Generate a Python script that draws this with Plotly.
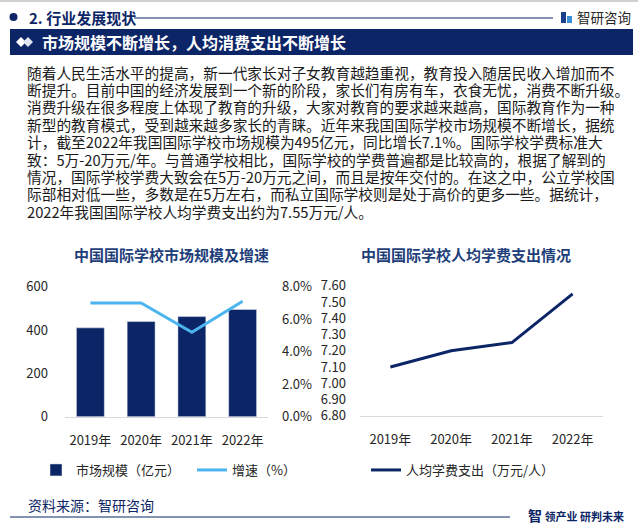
import plotly.graph_objects as go

years = ["2019年", "2020年", "2021年", "2022年"]
market_size = [410, 439, 462, 495]          # 亿元
growth_rate = [0.070, 0.070, 0.052, 0.071]  # 增速
fee_per_student = [7.10, 7.20, 7.25, 7.55]  # 万元/人

left_yticks = [0, 200, 400, 600]
right_pct_ticks = [0.0, 0.02, 0.04, 0.06, 0.08]
fee_ticks = [6.8, 6.9, 7.0, 7.1, 7.2, 7.3, 7.4, 7.5, 7.6]

body_lines = [
    "随着人民生活水平的提高，新一代家长对子女教育越趋重视，教育投入随居民收入增加而不",
    "断提升。目前中国的经济发展到一个新的阶段，家长们有房有车，衣食无忧，消费不断升级。",
    "消费升级在很多程度上体现了教育的升级，大家对教育的要求越来越高，国际教育作为一种",
    "新型的教育模式，受到越来越多家长的青睐。近年来我国国际学校市场规模不断增长，据统",
    "计，截至2022年我国国际学校市场规模为495亿元，同比增长7.1%。国际学校学费标准大",
    "致：5万-20万元/年。与普通学校相比，国际学校的学费普遍都是比较高的，根据了解到的",
    "情况，国际学校学费大致会在5万-20万元之间，而且是按年交付的。在这之中，公立学校国",
    "际部相对低一些，多数是在5万左右，而私立国际学校则是处于高价的更多一些。据统计，",
    "2022年我国国际学校人均学费支出约为7.55万元/人。",
]

W, H = 638, 526
NAVY = "#0c2566"
LIGHT = "#4cb4ee"
FONT = "Noto Sans CJK SC"


def px(x):
    return x / W


def py(y):
    return 1 - y / H


fig = go.Figure()

fig.add_trace(go.Bar(
    x=years, y=market_size, name="市场规模（亿元）",
    marker=dict(color=NAVY), xaxis="x", yaxis="y",
    legend="legend", hoverinfo="skip"))
fig.add_trace(go.Scatter(
    x=years, y=growth_rate, name="增速（%）", mode="lines",
    line=dict(color=LIGHT, width=3), xaxis="x", yaxis="y2",
    legend="legend3", hoverinfo="skip"))
fig.add_trace(go.Scatter(
    x=years, y=fee_per_student, name="人均学费支出（万元/人）", mode="lines",
    line=dict(color=NAVY, width=3), xaxis="x2", yaxis="y3",
    legend="legend2", hoverinfo="skip"))

tickfont = dict(family=FONT, size=13, color="#262626")
legfont = dict(family=FONT, size=13, color="#262626")

fig.update_layout(
    width=W, height=H,
    margin=dict(l=0, r=0, t=0, b=0, autoexpand=False),
    paper_bgcolor="white", plot_bgcolor="rgba(0,0,0,0)",
    font=dict(family=FONT, color="#262626"),
    bargap=0.45,
    xaxis=dict(domain=[px(65), px(268)], anchor="y", showgrid=False,
               showline=True, linecolor="#d9d9d9", linewidth=1,
               ticks="", tickfont=tickfont, ticklabelstandoff=12,
               tickangle=0, automargin=False, range=[-0.5, 3.5]),
    yaxis=dict(domain=[py(416.7), py(286.7)], range=[0, 600],
               tickvals=left_yticks, showgrid=False, zeroline=False,
               showline=False, tickfont=tickfont, ticklabelstandoff=16,
               automargin=False),
    yaxis2=dict(domain=[py(416.7), py(286.7)], range=[0, 0.08],
                overlaying="y", side="right", anchor="x",
                tickvals=right_pct_ticks, tickformat=".1%",
                showgrid=False, zeroline=False, showline=False,
                tickfont=tickfont, ticklabelstandoff=13, automargin=False),
    xaxis2=dict(domain=[px(360), px(603)], anchor="y3", showgrid=False,
                showline=True, linecolor="#d9d9d9", linewidth=1,
                ticks="", tickfont=tickfont, ticklabelstandoff=12,
                tickangle=0, automargin=False, range=[-0.5, 3.5]),
    yaxis3=dict(domain=[py(415.7), py(285.7)], range=[6.8, 7.6],
                anchor="x2", tickvals=fee_ticks, tickformat=".2f",
                showgrid=False, zeroline=False, showline=False,
                tickfont=tickfont, ticklabelstandoff=13, automargin=False),
    showlegend=True,
    legend=dict(x=px(36), y=py(470), xanchor="left", yanchor="middle",
                orientation="h", font=legfont,
                bgcolor="rgba(0,0,0,0)", itemwidth=30),
    legend3=dict(x=px(192), y=py(470), xanchor="left", yanchor="middle",
                 orientation="h", font=legfont,
                 bgcolor="rgba(0,0,0,0)", itemwidth=30),
    legend2=dict(x=px(366), y=py(470), xanchor="left", yanchor="middle",
                 orientation="h", font=legfont,
                 bgcolor="rgba(0,0,0,0)", itemwidth=30),
)

shapes = []
annotations = []

# top thin gray line
shapes.append(dict(type="rect", xref="paper", yref="paper", x0=0, x1=1,
                   y0=py(2), y1=1, fillcolor="#d0d0d0", line=dict(width=0), layer="below"))
# header bullet and line
shapes.append(dict(type="circle", xref="paper", yref="paper",
                   x0=px(9.5), x1=px(17.5), y0=py(21), y1=py(13),
                   fillcolor=NAVY, line=dict(width=0)))
shapes.append(dict(type="line", xref="paper", yref="paper",
                   x0=px(134), x1=px(553), y0=py(18), y1=py(18),
                   line=dict(color=NAVY, width=1)))
annotations.append(dict(x=px(27), y=py(17), xref="paper", yref="paper",
                        xanchor="left", yanchor="middle", showarrow=False,
                        text="<b>2. 行业发展现状</b>",
                        font=dict(family=FONT, size=15, color=NAVY)))
# logo icon
shapes.append(dict(type="rect", xref="paper", yref="paper",
                   x0=px(561), x1=px(566), y0=py(23), y1=py(12),
                   fillcolor="#1c3f8c", line=dict(width=0)))
shapes.append(dict(type="rect", xref="paper", yref="paper",
                   x0=px(567), x1=px(572), y0=py(23), y1=py(16),
                   fillcolor="#3a8fd8", line=dict(width=0)))
annotations.append(dict(x=px(575), y=py(17), xref="paper", yref="paper",
                        xanchor="left", yanchor="middle", showarrow=False,
                        text="智研咨询",
                        font=dict(family=FONT, size=13.5, color="#262626")))

# title bar
shapes.append(dict(type="rect", xref="paper", yref="paper",
                   x0=px(10), x1=px(633), y0=py(55), y1=py(29),
                   fillcolor=NAVY, line=dict(width=0), layer="below"))
for cx in (21, 28):
    shapes.append(dict(type="path", xref="paper", yref="paper",
                       path=f"M {px(cx-5)} {py(42)} L {px(cx)} {py(37)} L {px(cx+5)} {py(42)} L {px(cx)} {py(47)} Z",
                       fillcolor="white" if cx == 21 else "#dfe6f2", line=dict(width=0)))
annotations.append(dict(x=px(40), y=py(42), xref="paper", yref="paper",
                        xanchor="left", yanchor="middle", showarrow=False,
                        text="<b>市场规模不断增长，人均消费支出不断增长</b>",
                        font=dict(family=FONT, size=16, color="white")))

# body text
for i, line in enumerate(body_lines):
    annotations.append(dict(x=px(26), y=py(72 + 17.4 * i), xref="paper", yref="paper",
                            xanchor="left", yanchor="middle", showarrow=False,
                            text=line, borderpad=0,
                            font=dict(family=FONT, size=14.7, color="#1a1a1a")))

# chart titles
annotations.append(dict(x=px(171), y=py(254), xref="paper", yref="paper",
                        xanchor="center", yanchor="middle", showarrow=False,
                        text="<b>中国国际学校市场规模及增速</b>",
                        font=dict(family=FONT, size=15, color="#1f3f7a")))
annotations.append(dict(x=px(466), y=py(254), xref="paper", yref="paper",
                        xanchor="center", yanchor="middle", showarrow=False,
                        text="<b>中国国际学校人均学费支出情况</b>",
                        font=dict(family=FONT, size=15, color="#1f3f7a")))

# footer
annotations.append(dict(x=px(26), y=py(505), xref="paper", yref="paper",
                        xanchor="left", yanchor="middle", showarrow=False,
                        text="资料来源：智研咨询",
                        font=dict(family=FONT, size=14, color=NAVY)))
shapes.append(dict(type="line", xref="paper", yref="paper",
                   x0=px(10), x1=px(510), y0=py(517), y1=py(517),
                   line=dict(color=NAVY, width=1)))
annotations.append(dict(x=px(526), y=py(515), xref="paper", yref="paper",
                        xanchor="left", yanchor="middle", showarrow=False,
                        text="<b><span style='font-size:14px'>智</span> 领产业 研判未来</b>",
                        font=dict(family=FONT, size=11, color=NAVY)))

fig.update_layout(shapes=shapes, annotations=annotations)

fig.write_html("out.html", config={"displayModeBar": False},
               post_script="document.body.style.margin='0';document.body.style.padding='0';")
